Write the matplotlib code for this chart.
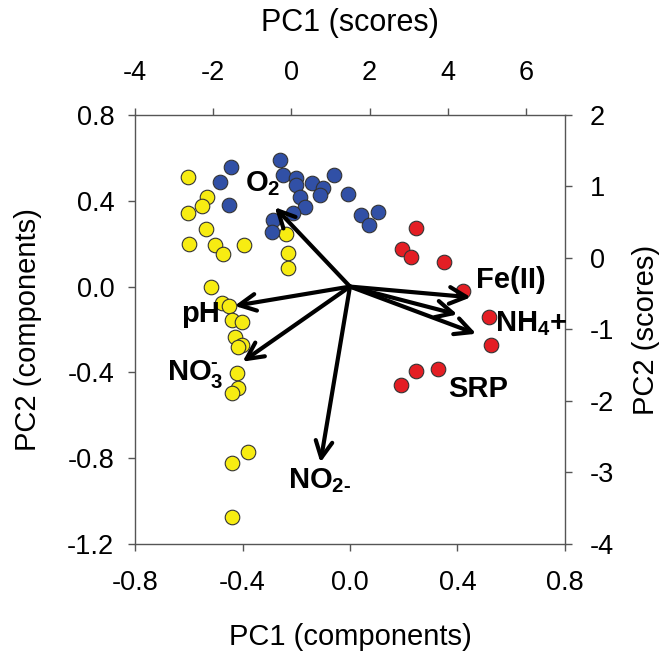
import numpy as np
import matplotlib.pyplot as plt

plt.rcParams['font.family'] = ['Liberation Sans', 'DejaVu Sans']
plt.rcParams['mathtext.default'] = 'regular'
plt.rcParams['mathtext.fontset'] = 'custom'
plt.rcParams['mathtext.rm'] = 'Liberation Sans:bold'
plt.rcParams['axes.unicode_minus'] = False

yellow_x = [-2.65, -2.16, -2.29, -2.65, -2.18, -2.62, -1.95, -1.75, -1.21, -0.15,
            -0.10, -0.08, -2.06, -1.77, -1.59, -1.52, -1.26, -1.44, -1.26, -1.36,
            -1.39, -1.36, -1.52, -1.10, -1.52, -1.52]
yellow_y = [1.13, 0.85, 0.73, 0.63, 0.41, 0.20, 0.18, 0.06, 0.18, 0.34,
            0.07, -0.14, -0.41, -0.63, -0.67, -0.87, -0.90, -1.10, -1.22, -1.24,
            -1.61, -1.82, -1.89, -2.71, -2.87, -3.62]

blue_x = [-1.54, -1.82, -1.59, -0.28, -0.21, 0.13, 0.13, 0.54, 1.10, 0.82,
          0.74, 0.23, 0.36, 1.44, 0.05, 1.77, 2.23, 1.98, -0.46, -0.49]
blue_y = [1.27, 1.06, 0.74, 1.37, 1.16, 1.12, 1.02, 1.05, 1.16, 0.98,
          0.88, 0.85, 0.71, 0.90, 0.63, 0.60, 0.64, 0.46, 0.53, 0.36]

red_x = [3.19, 2.83, 3.06, 3.90, 4.39, 5.06, 5.11, 3.75, 3.19, 2.80]
red_y = [0.42, 0.13, 0.01, -0.06, -0.46, -0.83, -1.22, -1.55, -1.58, -1.78]

# variable loadings (PC1, PC2) on the bottom / left axes
var_names = ['O$_2$', 'pH', r'NO$_3^{\text{-}}$', r'NO$_{2\text{-}}$', 'Fe(II)', 'SRP', 'NH$_4$+']
load_x = [-0.28, -0.43, -0.40, -0.11, 0.45, 0.40, 0.47]
load_y = [0.37, -0.09, -0.35, -0.82, -0.05, -0.13, -0.22]
# where each name is written (left edge, baseline)
lab_x = [-0.39, -0.63, -0.68, -0.23, 0.47, 0.365, 0.54]
lab_y = [0.445, -0.165, -0.435, -0.94, -0.005, -0.515, -0.21]

fig = plt.figure(figsize=(6.66, 6.57), dpi=100)
rect = [0.203, 0.172, 0.645, 0.653]

tick_kw = dict(direction='out', length=5, width=1, color='#555555', labelsize=19.5)

# scores axes: top and right
axs = fig.add_axes(rect)
axs.scatter(yellow_x, yellow_y, s=110, c='#F7EC12', edgecolors='#333333', linewidths=0.8, zorder=2)
axs.scatter(blue_x, blue_y, s=110, c='#3150A6', edgecolors='#333333', linewidths=0.8, zorder=2)
axs.scatter(red_x, red_y, s=110, c='#E41E24', edgecolors='#333333', linewidths=0.8, zorder=2)
axs.set_xlim(-4, 7)
axs.set_ylim(-4, 2)
axs.set_xticks([-4, -2, 0, 2, 4, 6])
axs.set_yticks([-4, -3, -2, -1, 0, 1, 2])
axs.xaxis.tick_top()
axs.yaxis.tick_right()
axs.xaxis.set_label_position('top')
axs.yaxis.set_label_position('right')
axs.set_xlabel('PC1 (scores)', fontsize=22, labelpad=21)
axs.set_ylabel('PC2 (scores)', fontsize=21, labelpad=13)
axs.tick_params(axis='x', pad=16, **tick_kw)
axs.tick_params(axis='y', pad=13, **tick_kw)
for sp in axs.spines.values():
    sp.set_color('#555555')
    sp.set_linewidth(1)

# components axes: bottom and left, drawn over the points
axc = fig.add_axes(rect, frameon=False)
axc.patch.set_visible(False)
axc.set_xlim(-0.8, 0.8)
axc.set_ylim(-1.2, 0.8)
axc.set_xticks(np.arange(-0.8, 0.81, 0.4))
axc.set_yticks(np.arange(-1.2, 0.81, 0.4))
axc.xaxis.set_major_formatter(plt.FormatStrFormatter('%.1f'))
axc.yaxis.set_major_formatter(plt.FormatStrFormatter('%.1f'))
axc.set_xlabel('PC1 (components)', fontsize=21, labelpad=19)
axc.set_ylabel('PC2 (components)', fontsize=21, labelpad=18)
axc.tick_params(axis='x', pad=14, **tick_kw)
axc.tick_params(axis='y', pad=10, **tick_kw)

for i in range(len(var_names)):
    axc.annotate('', xy=(load_x[i], load_y[i]), xytext=(0, 0),
                 arrowprops=dict(arrowstyle='->', lw=3, color='black',
                                 mutation_scale=30, shrinkA=0, shrinkB=0))
    axc.text(lab_x[i], lab_y[i], var_names[i], fontsize=21, fontweight='bold',
             ha='left', va='baseline')

fig.savefig('out.png', dpi=100)
